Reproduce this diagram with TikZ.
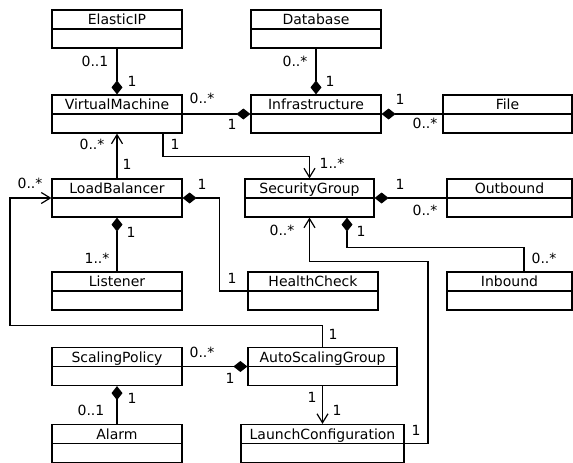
\documentclass[tikz,border=0pt]{standalone}
\usepackage{fontspec}
\setmainfont{DejaVu Sans}
\usetikzlibrary{arrows.meta}
\begin{document}
\begin{tikzpicture}[x=1pt, y=-1pt,
    umlclass/.style={draw, line width=1.2pt, minimum width=#1, minimum height=38pt,
        inner sep=0pt, text height=14.5pt, text depth=23.5pt,
        font=\fontsize{14}{16}\selectfont,
        path picture={\draw[line width=1.2pt] (path picture bounding box.west) -- (path picture bounding box.east);}},
    umlclass/.default=130pt,
    mult/.style={inner sep=0pt, font=\fontsize{14}{16}\selectfont},
    comp/.style={line width=1.2pt, -{Diamond[length=14pt, width=11pt]}},
    assoc/.style={line width=1.2pt, -{Straight Barb[length=9pt, width=11pt]}}]

    \useasboundingbox (0,0) rectangle (573,463);

    % classes
    \node[umlclass] (eip) at (117,29) {ElasticIP};
    \node[umlclass] (db) at (316,29) {Database};
    \node[umlclass] (vm) at (117,114) {VirtualMachine};
    \node[umlclass] (infra) at (316,114) {Infrastructure};
    \node[umlclass=129pt] (file) at (507.5,114) {File};
    \node[umlclass] (lb) at (117,198) {LoadBalancer};
    \node[umlclass=129pt] (sg) at (309.5,198) {SecurityGroup};
    \node[umlclass=125pt] (outb) at (509.5,198) {Outbound};
    \node[umlclass] (lis) at (117,291) {Listener};
    \node[umlclass] (hc) at (313,291) {HealthCheck};
    \node[umlclass=125pt] (inb) at (509.5,291) {Inbound};
    \node[umlclass] (sp) at (117,366.5) {ScalingPolicy};
    \node[umlclass=149pt] (asg) at (322.5,366.5) {AutoScalingGroup};
    \node[umlclass] (alarm) at (117,443.5) {Alarm};
    \node[umlclass=163pt] (lc) at (322.5,443.5) {LaunchConfiguration};

    % compositions
    \draw[comp] (eip.south) -- (vm.north);
    \draw[comp] (db.south) -- (infra.north);
    \draw[comp] (vm.east) -- (infra.west);
    \draw[comp] (file.west) -- (infra.east);
    \draw[comp] (lis.north) -- (lb.south);
    \draw[comp] (hc.west) -| ([xshift=37pt]lb.east) -- (lb.east);
    \draw[comp] (outb.west) -- (sg.east);
    \draw[comp] ([xshift=14.5pt]inb.north) |- ([xshift=37.5pt,yshift=-30pt]sg.south)
        -- ([xshift=37.5pt]sg.south);
    \draw[comp] (sp.east) -- (asg.west);
    \draw[comp] (alarm.north) -- (sp.south);

    % associations
    \draw[assoc] (lb.north) -- (vm.south);
    \draw[assoc] ([xshift=46pt]vm.south) |- ([yshift=22pt]sg.north) -- (sg.north);
    \draw[assoc] (lc.east) -| ([xshift=118.5pt,yshift=-44pt]sg.south) -| (sg.south);
    \draw[assoc] (asg.north) |- ([xshift=-312.5pt,yshift=21.5pt]asg.north) |- (lb.west);
    \draw[assoc] (asg.south) -- (lc.north);

    % multiplicities
    \node[mult] (m1) at (95,61) {0..1};
    \node[mult] (m2) at (132,81) {1};
    \node[mult] (m3) at (295,61) {0..*};
    \node[mult] (m4) at (330,81) {1};
    \node[mult] (m5) at (202,98) {0..*};
    \node[mult] (m6) at (232,124) {1};
    \node[mult] (m7) at (400,99) {1};
    \node[mult] (m8) at (425,123) {0..*};
    \node[mult] (m9) at (92,144) {0..*};
    \node[mult] (m10) at (127,164) {1};
    \node[mult] (m11) at (175,144) {1};
    \node[mult] (m12) at (332,163) {1..*};
    \node[mult] (m13) at (30,183) {0..*};
    \node[mult] (m14) at (202,184) {1};
    \node[mult] (m15) at (400,184) {1};
    \node[mult] (m16) at (425,210) {0..*};
    \node[mult] (m17) at (131,232) {1};
    \node[mult] (m18) at (97,258) {1..*};
    \node[mult] (m19) at (282,230) {0..*};
    \node[mult] (m20) at (361,231) {1};
    \node[mult] (m21) at (544,258) {0..*};
    \node[mult] (m22) at (232,278) {1};
    \node[mult] (m23) at (333,334) {1};
    \node[mult] (m24) at (202,352) {0..*};
    \node[mult] (m25) at (230,378) {1};
    \node[mult] (m26) at (132,398) {1};
    \node[mult] (m27) at (91,410) {0..1};
    \node[mult] (m28) at (312,397) {1};
    \node[mult] (m29) at (337,410) {1};
    \node[mult] (m30) at (416,430) {1};
\end{tikzpicture}
\end{document}
